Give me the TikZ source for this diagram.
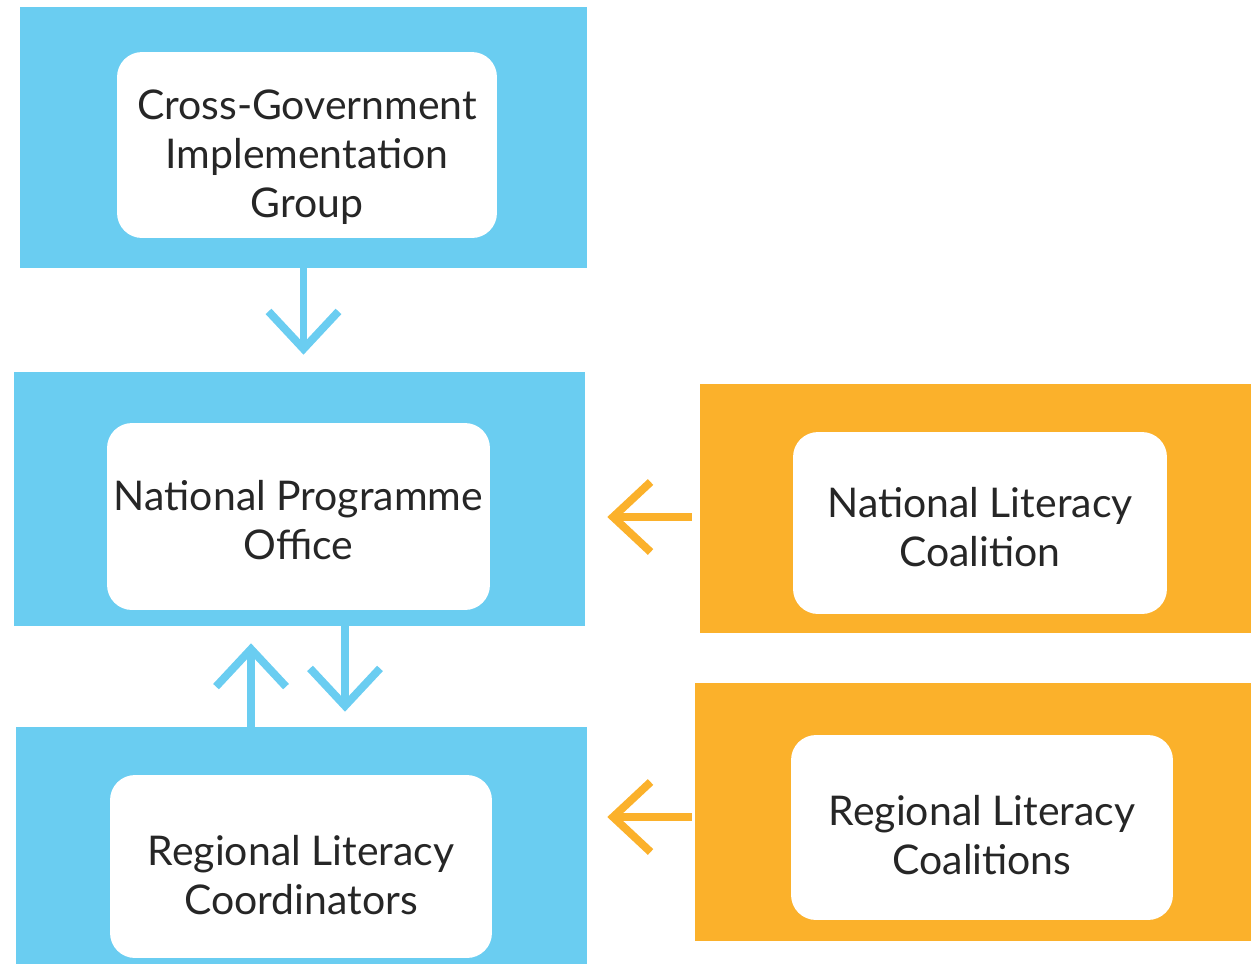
\documentclass[tikz,border=0pt]{standalone}
\usepackage{fontspec}
\setmainfont{Lato}
\usetikzlibrary{arrows.meta}
\definecolor{skyblue}{RGB}{106,205,241}
\definecolor{amber}{RGB}{251,177,43}
\definecolor{inkgray}{RGB}{38,38,38}
\tikzset{
  panel/.style={fill=#1, inner sep=0pt},
  card/.style={fill=white, rounded corners=0.5cm, inner sep=0pt, align=center,
    text=inkgray, font=\fontsize{23.3}{28}\selectfont},
  link/.style={draw=#1, line width=4.5pt, -{Straight Barb[length=0.75cm,width=1.4cm]}}
}
\begin{document}
\begin{tikzpicture}[x=0.02cm,y=-0.02cm]
\useasboundingbox (0,0) rectangle (1251,964);

% coloured panels
\node[panel=skyblue, minimum width=11.34cm, minimum height=5.22cm] (cgigpanel) at (303.5,137.5) {};
\node[panel=skyblue, minimum width=11.42cm, minimum height=5.08cm] (npopanel) at (299.5,499) {};
\node[panel=skyblue, minimum width=11.42cm, minimum height=4.74cm] (rlcpanel) at (301.5,845.5) {};
\node[panel=amber, minimum width=11.02cm, minimum height=4.98cm] (nlcpanel) at (975.5,508.5) {};
\node[panel=amber, minimum width=11.12cm, minimum height=5.16cm] (rlcspanel) at (973,812) {};

% white cards
\node[card, text height=3.06cm, minimum width=7.6cm, minimum height=3.72cm] (cgig) at (307,145) {Cross-Government\\Implementation\\Group};
\node[card, text height=1.72cm, minimum width=7.66cm, minimum height=3.74cm] (npo) at (298.5,516.5) {National Programme\\Office};
\node[card, text height=1.94cm, minimum width=7.64cm, minimum height=3.66cm] (rlc) at (301,866.5) {Regional Literacy\\Coordinators};
\node[card, text height=1.76cm, minimum width=7.48cm, minimum height=3.64cm] (nlc) at (980,523) {National Literacy\\Coalition};
\node[card, text height=1.89cm, minimum width=7.64cm, minimum height=3.7cm] (rlcs) at (982,827.5) {Regional Literacy\\Coalitions};

% arrows
\coordinate (upfoot) at ([xshift=-1.01cm]rlcpanel.north);
\coordinate (downfoot) at ([xshift=0.91cm]npopanel.south);
\coordinate (nlcfoot) at ([xshift=-0.16cm,yshift=-0.17cm]nlcpanel.west);
\coordinate (rlcsfoot) at ([xshift=-0.06cm,yshift=-0.1cm]rlcspanel.west);
\draw[link=skyblue, shorten >=0.34cm] (cgigpanel.south) -- (cgigpanel.south |- npopanel.north);
\draw[link=skyblue, shorten >=0.34cm] (upfoot) -- (upfoot |- npopanel.south);
\draw[link=skyblue, shorten >=0.3cm] (downfoot) -- (downfoot |- rlcpanel.north);
\draw[link=amber, shorten >=0.44cm] (nlcfoot) -- (nlcfoot -| npopanel.east);
\draw[link=amber, shorten >=0.4cm] (rlcsfoot) -- (rlcsfoot -| rlcpanel.east);
\end{tikzpicture}
\end{document}
